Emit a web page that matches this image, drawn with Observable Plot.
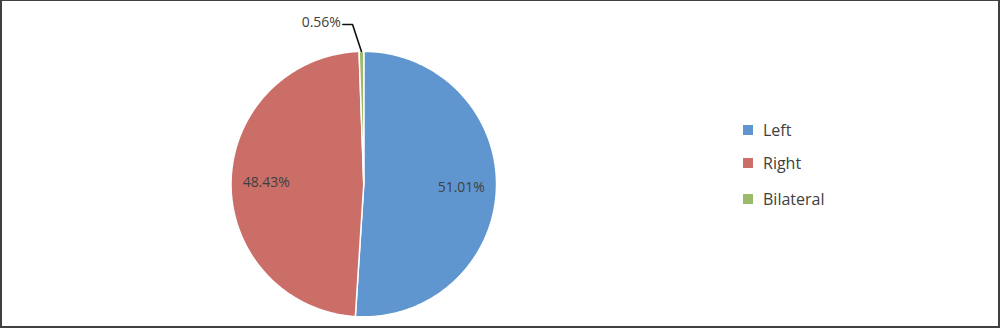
<!DOCTYPE html>
<html>
<head>
<meta charset="utf-8">
<script src="https://cdn.jsdelivr.net/npm/d3@7"></script>
<script src="https://cdn.jsdelivr.net/npm/@observablehq/plot@0.6"></script>
<style>
  html, body { margin: 0; padding: 0; background: #fff; }
  #wrap { position: relative; width: 1000px; height: 328px; box-sizing: border-box;
          border-style: solid; border-color: #404040; border-width: 1px 2px 2px 2px; overflow: hidden; }
  #chart { position: absolute; left: -2px; top: -1px; }
  .legend { position: absolute; left: 741px; font-family: "Open Sans", sans-serif; font-size: 16px; color: #404040; }
  .legend div { position: absolute; white-space: nowrap; display: flex; align-items: center; height: 20px; }
  .legend span.sw { display: inline-block; width: 10px; height: 10px; margin-right: 10px; }
</style>
</head>
<body>
<div id="wrap">
  <div id="chart"></div>
  <div class="legend" id="legend"></div>
</div>
<script>
const categories = ["Left", "Right", "Bilateral"];
const values = [51.01, 48.43, 0.56];
const labels = ["51.01%", "48.43%", "0.56%"];
const colors = ["#6096D0", "#CB6E67", "#9BBB6A"];

const pie = d3.pie().sort(null).value(d => d.value)(categories.map((name, i) => ({name, value: values[i], label: labels[i]})));

// Slice polygons
const slicePts = [];
for (const s of pie) {
  const n = Math.max(2, Math.ceil((s.endAngle - s.startAngle) / 0.01));
  slicePts.push({name: s.data.name, x: 0, y: 0});
  for (let k = 0; k <= n; k++) {
    const a = s.startAngle + (s.endAngle - s.startAngle) * k / n;
    slicePts.push({name: s.data.name, x: Math.sin(a), y: Math.cos(a)});
  }
  slicePts.push({name: s.data.name, x: 0, y: 0});
}

// Inside labels for big slices, outside label with leader for small one
const inside = pie.filter(s => s.data.value > 5).map(s => {
  const a = (s.startAngle + s.endAngle) / 2;
  return {label: s.data.label, x: 0.735 * Math.sin(a), y: 0.735 * Math.cos(a)};
});
const small = pie.filter(s => s.data.value <= 5).map(s => {
  const a = (s.startAngle + s.endAngle) / 2;
  return {s, a};
});
const leader = [];
const outside = [];
for (const {s, a} of small) {
  const ex = Math.sin(a), ey = Math.cos(a);
  const ky = 1.203;
  const kx = ex - 0.067;
  leader.push({name: s.data.name, x: ex, y: ey});
  leader.push({name: s.data.name, x: kx, y: ky});
  leader.push({name: s.data.name, x: kx - 0.073, y: ky});
  outside.push({label: s.data.label, x: kx - 0.088, y: ky + 0.015});
}

const chart = Plot.plot({
  width: 1000,
  height: 328,
  margin: 0,
  x: {domain: [-1, 1], range: [231, 497], axis: null},
  y: {domain: [-1, 1], range: [317, 51], axis: null},
  color: {domain: categories, range: colors},
  style: {background: "transparent"},
  marks: [
    Plot.line(slicePts, {x: "x", y: "y", z: "name", fill: "name", stroke: "white", strokeWidth: 1.5, strokeLinejoin: "round"}),
    Plot.text(inside, {x: "x", y: "y", text: "label", fill: "#404040", fontSize: 14, fontFamily: "Open Sans, sans-serif"}),
    Plot.line(leader, {x: "x", y: "y", z: "name", stroke: "#111", strokeWidth: 1.6}),
    Plot.text(outside, {x: "x", y: "y", text: "label", textAnchor: "end", fill: "#404040", fontSize: 14, fontFamily: "Open Sans, sans-serif"})
  ]
});
document.getElementById("chart").appendChild(chart);

const legendTops = [129, 162, 198];
const lg = document.getElementById("legend");
categories.forEach((c, i) => {
  const d = document.createElement("div");
  d.style.top = (legendTops[i] - 10) + "px";
  const sw = document.createElement("span");
  sw.className = "sw";
  sw.style.background = colors[i];
  d.appendChild(sw);
  d.appendChild(document.createTextNode(c));
  lg.appendChild(d);
});
</script>
</body>
</html>
